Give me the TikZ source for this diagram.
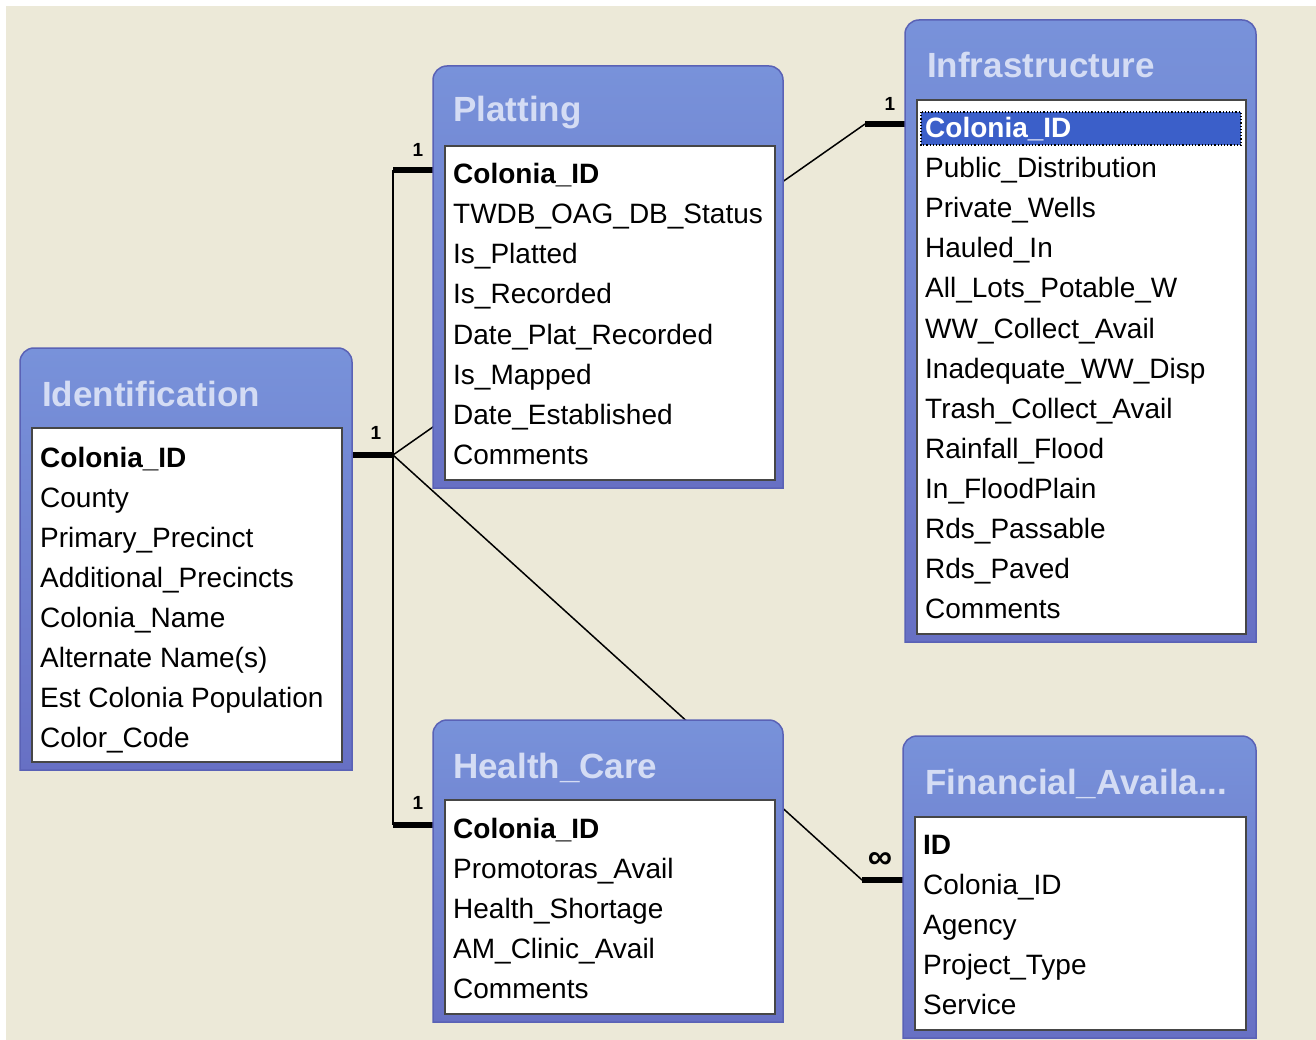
\documentclass[tikz,border=0pt]{standalone}
\usepackage{fontspec}
\setmainfont{Liberation Sans}
\definecolor{xpbeige}{HTML}{ECE9D8}
\definecolor{tbltop}{HTML}{7892DA}
\definecolor{tblbot}{HTML}{6770C4}
\definecolor{tblline}{HTML}{5A62B6}
\definecolor{ttltext}{HTML}{D4DCF4}
\definecolor{selblue}{HTML}{3B5FC9}
\begin{document}
\begin{tikzpicture}[x=1pt,y=-1pt,
    tbl/.style={top color=tbltop, bottom color=tblbot, draw=tblline, line width=1.5},
    lst/.style={fill=white, draw=gray!55!black, line width=1.5},
    ttl/.style={anchor=base west, inner sep=0, text=ttltext, font=\fontsize{35}{40}\selectfont\bfseries},
    fld/.style={anchor=base west, inner sep=0, font=\fontsize{28}{32}\selectfont},
    key/.style={fld, font=\fontsize{28}{32}\selectfont\bfseries},
    rel/.style={line width=1.5},
    stub/.style={line width=6},
    card/.style={inner sep=0, font=\fontsize{19}{22}\selectfont\bfseries}]
    \fill[white] (0,0) rectangle (1316,1040);
    \fill[xpbeige] (6,6) rectangle (1316,1040);
    \useasboundingbox (0,0) rectangle (1316,1040);

    \coordinate (J) at (393,455);
    \coordinate (identR) at (352,455);
    \coordinate (platJ) at (393,170);
    \coordinate (platL) at (433,170);
    \coordinate (healJ) at (393,825);
    \coordinate (healL) at (433,825);
    \coordinate (infraS) at (865,124);
    \coordinate (infraL) at (905,124);
    \coordinate (finS) at (862,880);
    \coordinate (finL) at (903,880);

    % relationships
    \draw[rel] (platJ) -- (healJ);
    \draw[stub] (identR) -- (J);
    \draw[stub] (platJ) -- (platL);
    \draw[stub] (healJ) -- (healL);
    \draw[rel] (J) -- (infraS);
    \draw[stub] (infraS) -- (infraL);
    \draw[rel] (J) -- (finS);
    \draw[stub] (finS) -- (finL);
    \node[card] (cIdent) at (376,433) {1};
    \node[card] (cPlat) at (418,150) {1};
    \node[card] (cHeal) at (418,803) {1};
    \node[card] (cInfra) at (890,104) {1};
    \node[card, font=\fontsize{34}{36}\selectfont\bfseries] (cFin) at (880,860) {∞};

    % Identification
    \fill[tbl] (20,770) [rounded corners=14] -- (20,348) -- (352,348) [sharp corners] -- (352,770) -- cycle;
    \node[ttl] (identT) at (42,406) {Identification};
    \draw[lst] (32,428) rectangle (342,762);
    \node[key] (identK) at (40,467) {Colonia\_ID};
    \foreach \f [count=\i] in {County, Primary\_Precinct, Additional\_Precincts, Colonia\_Name,
        {Alternate Name(s)}, Est Colonia Population, Color\_Code}
        \node[fld] (ident\i) at (40,467+40*\i) {\f};

    % Platting
    \fill[tbl] (433,488) [rounded corners=14] -- (433,66) -- (783,66) [sharp corners] -- (783,488) -- cycle;
    \node[ttl] (platT) at (453,122) {Platting};
    \draw[lst] (445,146) rectangle (775,480);
    \node[key] (platK) at (453,184) {Colonia\_ID};
    \foreach \f [count=\i] in {TWDB\_OAG\_DB\_Status, Is\_Platted, Is\_Recorded, Date\_Plat\_Recorded,
        Is\_Mapped, Date\_Established, Comments}
        \node[fld] (plat\i) at (453,184+40*\i) {\f};

    % Infrastructure
    \fill[tbl] (905,642) [rounded corners=14] -- (905,20) -- (1256,20) [sharp corners] -- (1256,642) -- cycle;
    \node[ttl] (infraT) at (927,78) {Infrastructure};
    \draw[lst] (917,100) rectangle (1246,634);
    \draw[fill=selblue, dotted, line width=1.2] (921,112) rectangle (1241,145);
    \node[key, text=white] (infraK) at (925,138) {Colonia\_ID};
    \foreach \f [count=\i] in {Public\_Distribution, Private\_Wells, Hauled\_In, All\_Lots\_Potable\_W,
        WW\_Collect\_Avail, Inadequate\_WW\_Disp, Trash\_Collect\_Avail, Rainfall\_Flood,
        In\_FloodPlain, Rds\_Passable, Rds\_Paved, Comments}
        \node[fld] (infra\i) at (925,138+40*\i) {\f};

    % Health_Care
    \fill[tbl] (433,1022) [rounded corners=14] -- (433,720) -- (783,720) [sharp corners] -- (783,1022) -- cycle;
    \node[ttl] (healT) at (453,778) {Health\_Care};
    \draw[lst] (445,800) rectangle (775,1014);
    \node[key] (healK) at (453,838) {Colonia\_ID};
    \foreach \f [count=\i] in {Promotoras\_Avail, Health\_Shortage, AM\_Clinic\_Avail, Comments}
        \node[fld] (heal\i) at (453,838+40*\i) {\f};

    % Financial_Availability
    \fill[tbl] (903,1038) [rounded corners=14] -- (903,736) -- (1256,736) [sharp corners] -- (1256,1038) -- cycle;
    \node[ttl] (finT) at (925,794) {Financial\_Availa...};
    \draw[lst] (915,817) rectangle (1246,1030);
    \node[key] (finK) at (923,854) {ID};
    \foreach \f [count=\i] in {Colonia\_ID, Agency, Project\_Type, Service}
        \node[fld] (fin\i) at (923,854+40*\i) {\f};

\end{tikzpicture}
\end{document}
